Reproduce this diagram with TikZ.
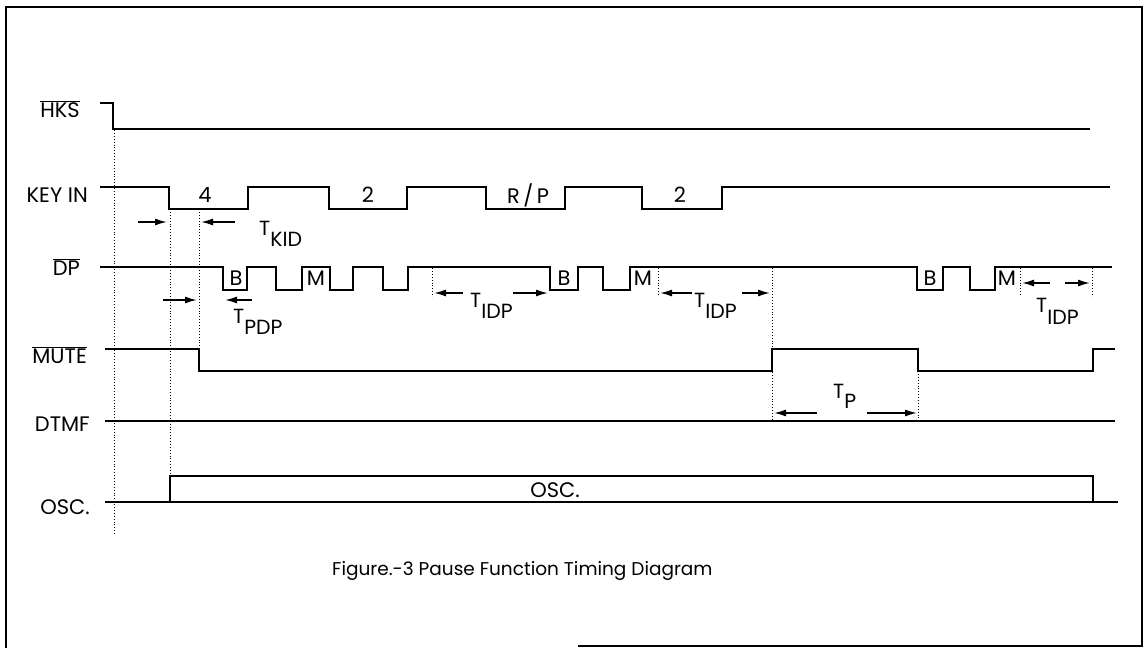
\documentclass[tikz,border=0pt]{standalone}
\usepackage{fontspec}
\setmainfont{Poppins}
\usetikzlibrary{arrows.meta}
\newcommand{\Tlab}[2]{T\raisebox{-#1}{#2}}
\begin{document}
\begin{tikzpicture}[x=1pt,y=-1pt,
  wave/.style={line width=2.4pt, line join=miter},
  framel/.style={line width=1.6pt},
  guide/.style={line width=0.9pt, dotted},
  dimarrow/.style={line width=1.5pt, -{Latex[length=12pt,width=7pt]}},
  sig/.style={font=\fontsize{21}{24}\selectfont, inner sep=0pt, anchor=base east},
  tag/.style={font=\fontsize{21}{24}\selectfont, inner sep=0pt},
  tlabel/.style={font=\fontsize{20.5}{23}\selectfont, inner sep=0pt, anchor=base west},
  caption/.style={font=\fontsize{18.5}{22}\selectfont, inner sep=0pt, anchor=base west},
]
\useasboundingbox (0,0) rectangle (1146,648);
% frame
\draw[framel] (6,648) -- (6,7) -- (1142,7) -- (1142,646) -- (578,646);

% signal names
\node[sig] (hks)  at (80,117)  {$\overline{\mbox{HKS}}$};
\node[sig] (key)  at (88,202)  {KEY IN};
\node[sig] (dp)   at (80,275)  {$\overline{\mbox{DP}}$};
\node[sig] (mute) at (87,363)  {$\overline{\mbox{MUTE}}$};
\node[sig] (dtmf) at (90,431)  {DTMF};
\node[sig] (osc)  at (90,514)  {OSC.};

% waveforms
\draw[wave] (100,103) -- (113,103) -- (113,129) -- (1090,129);
\draw[wave] (100,187) -- (169,187) -- (169,209) -- (248,209) -- (248,187) -- (329,187) -- (329,209) -- (407,209) -- (407,187) -- (486,187) -- (486,209) -- (565,209) -- (565,187) -- (642,187) -- (642,209) -- (722,209) -- (722,187) -- (1110,187);
\draw[wave] (100,267) -- (223,267) -- (223,290) -- (247,290) -- (247,267) -- (276,267) -- (276,290) -- (302,290) -- (302,267) -- (330,267) -- (330,290) -- (353,290) -- (353,267) -- (383,267) -- (383,290) -- (408,290) -- (408,267) -- (550,267) -- (550,290) -- (578,290) -- (578,267) -- (603,267) -- (603,290) -- (630,290) -- (630,267) -- (917,267) -- (917,290) -- (943,290) -- (943,267) -- (970,267) -- (970,290) -- (995,290) -- (995,267) -- (1112,267);
\draw[wave] (105,349) -- (199,349) -- (199,371) -- (772,371) -- (772,349) -- (918,349) -- (918,371) -- (1093,371) -- (1093,349) -- (1115,349);
\draw[wave] (105,421) -- (1115,421);
\draw[wave] (105,502) -- (1118,502);
\draw[wave] (170,502) -- (170,476) -- (1093,476) -- (1093,502);

% waveform texts
\node[tag] (k4) at (205,195) {4};
\node[tag] (k2a) at (368,195) {2};
\node[tag] (krp) at (528,195) {R\,/\,P};
\node[tag] (k2b) at (680,195) {2};
\node[tag] (b1) at (236,278) {B};
\node[tag] (m1) at (316,278) {M};
\node[tag] (b2) at (564,278) {B};
\node[tag] (m2) at (643,278) {M};
\node[tag] (b3) at (930,278) {B};
\node[tag] (m3) at (1007,278) {M};
\node[tag] (osct) at (555,490) {OSC.};

% guide lines
\draw[guide] (114,130) -- (114,535);
\draw[guide] (170,209) -- (170,478);
\draw[guide] (199,209) -- (199,350);
\draw[guide] (432,268) -- (432,297);
\draw[guide] (658,268) -- (658,297);
\draw[guide] (772,268) -- (772,421);
\draw[guide] (918,371) -- (918,421);
\draw[guide] (1020,268) -- (1020,295);
\draw[guide] (1092,268) -- (1092,297);

% dimension arrows
\coordinate (kidA0) at (138,222); \coordinate (kidA1) at (167,222);
\coordinate (kidB0) at (235,222); \coordinate (kidB1) at (201,222);
\draw[dimarrow] (kidA0) -- (kidA1);
\draw[dimarrow] (kidB0) -- (kidB1);
\coordinate (pdpA0) at (163,300); \coordinate (pdpA1) at (197,300);
\coordinate (pdpB0) at (252,300); \coordinate (pdpB1) at (225,300);
\draw[dimarrow] (pdpA0) -- (pdpA1);
\draw[dimarrow] (pdpB0) -- (pdpB1);
\coordinate (i1A0) at (463,293); \coordinate (i1A1) at (434,293);
\coordinate (i1B0) at (513,293); \coordinate (i1B1) at (548,293);
\draw[dimarrow] (i1A0) -- (i1A1);
\draw[dimarrow] (i1B0) -- (i1B1);
\coordinate (i2A0) at (692,293); \coordinate (i2A1) at (660,293);
\coordinate (i2B0) at (742,293); \coordinate (i2B1) at (770,293);
\draw[dimarrow] (i2A0) -- (i2A1);
\draw[dimarrow] (i2B0) -- (i2B1);
\coordinate (i3A0) at (1050,283); \coordinate (i3A1) at (1022,283);
\coordinate (i3B0) at (1065,283); \coordinate (i3B1) at (1090,283);
\draw[dimarrow] (i3A0) -- (i3A1);
\draw[dimarrow] (i3B0) -- (i3B1);
\coordinate (tpA0) at (817,413); \coordinate (tpA1) at (774,413);
\coordinate (tpB0) at (867,413); \coordinate (tpB1) at (917,413);
\draw[dimarrow] (tpA0) -- (tpA1);
\draw[dimarrow] (tpB0) -- (tpB1);

% timing labels
\node[tlabel] (tkid) at (259,235) {\Tlab{11pt}{KID}};
\node[tlabel] (tpdp) at (233,323) {\Tlab{11pt}{PDP}};
\node[tlabel] (tidp1) at (470,307) {\Tlab{11pt}{IDP}};
\node[tlabel] (tidp2) at (694,307) {\Tlab{11pt}{IDP}};
\node[tlabel] (tidp3) at (1036,312) {\Tlab{12pt}{IDP}};
\node[tlabel] (tp) at (833,398) {\Tlab{10pt}{P}};

% caption
\node[caption] (cap) at (332,575) {Figure.-3 Pause Function Timing Diagram};
\end{tikzpicture}
\end{document}
